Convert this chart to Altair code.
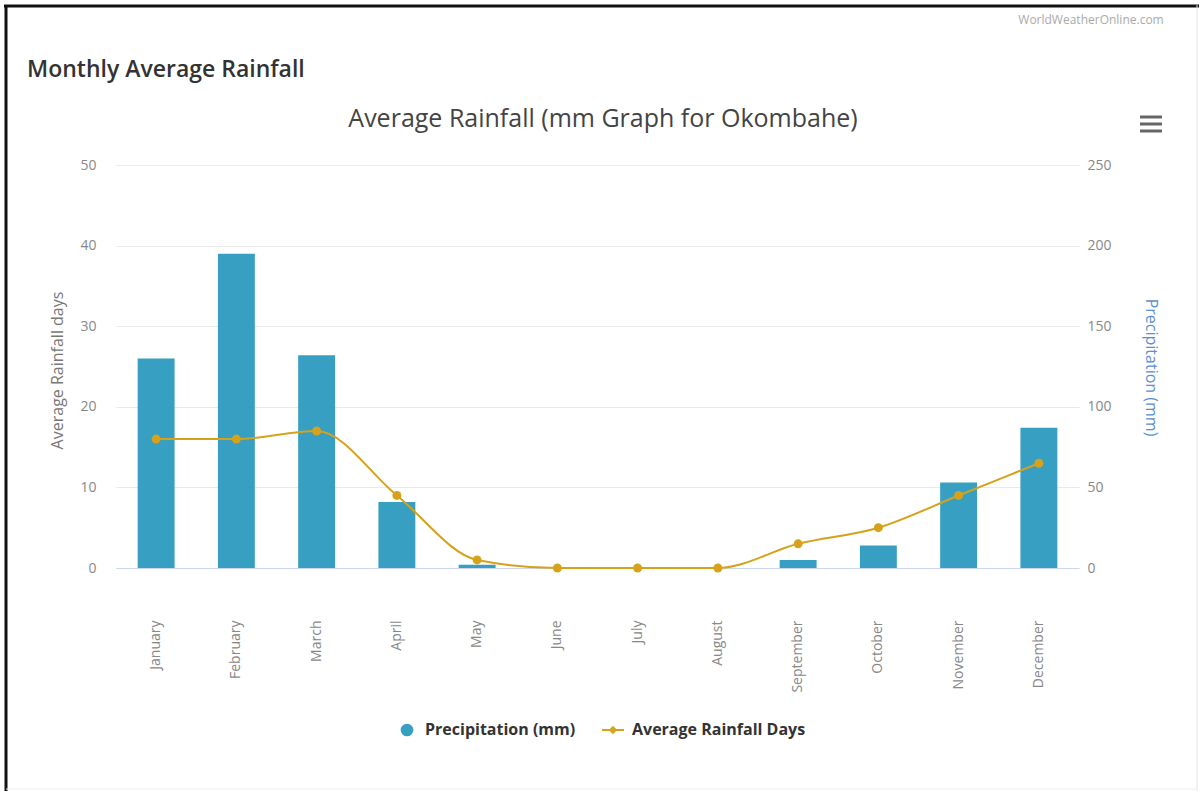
import altair as alt
import pandas as pd

months = ["January", "February", "March", "April", "May", "June", "July",
          "August", "September", "October", "November", "December"]
precip_mm = [130, 195, 132, 41, 2, 0, 0, 0, 5, 14, 53, 87]
rain_days = [16, 16, 17, 9, 1, 0, 0, 0, 3, 5, 9, 13]

df = pd.DataFrame({"month": months, "precip": precip_mm, "days": rain_days})

FONT = "Open Sans"
BLUE = "#369fc2"
GOLD = "#d6a21c"
W, H = 963, 403
OX, OY = 116, 165  # plot origin in page pixels

xenc = alt.X("month:N", sort=months, title=None,
             scale=alt.Scale(paddingInner=0.54, paddingOuter=0.27),
             axis=alt.Axis(labelAngle=-90, labelPadding=52, ticks=False,
                           domainColor="#ccd6eb", domainWidth=1,
                           labelColor="#888", labelFontSize=14, labelFont=FONT))

bars = alt.Chart(df).mark_bar(color=BLUE).encode(
    x=xenc,
    y=alt.Y("precip:Q", scale=alt.Scale(domain=[0, 250], nice=False),
            axis=alt.Axis(orient="right", values=[0, 50, 100, 150, 200, 250],
                          grid=False, domain=False, ticks=False, labelPadding=8,
                          labelColor="#888", labelFontSize=14, labelFont=FONT,
                          title="Precipitation (mm)", titleColor="#5b90cf",
                          titleFont=FONT, titleFontSize=16, titleFontWeight="normal",
                          titleAngle=90, titleX=71, titleY=202,
                          titleAlign="center", titleBaseline="middle")),
)

line = alt.Chart(df).mark_line(
    color=GOLD, strokeWidth=2, interpolate="monotone",
    point=alt.OverlayMarkDef(filled=True, size=80, color=GOLD),
).encode(
    x=xenc,
    y=alt.Y("days:Q", scale=alt.Scale(domain=[0, 50], nice=False),
            axis=alt.Axis(orient="left", values=[0, 10, 20, 30, 40, 50],
                          grid=True, gridColor="#e9e9e9", domain=False, ticks=False,
                          labelPadding=20, labelColor="#888", labelFontSize=14,
                          labelFont=FONT, title="Average Rainfall days",
                          titleColor="#777", titleFont=FONT, titleFontSize=16,
                          titleFontWeight="normal", titleAngle=-90,
                          titleX=-59, titleY=205, titleAlign="center",
                          titleBaseline="middle")),
)

def txt(s, x, y, size, color, weight="normal", align="left"):
    return alt.Chart(pd.DataFrame({"t": [s]})).mark_text(
        font=FONT, fontSize=size, color=color, fontWeight=weight,
        align=align, baseline="middle",
    ).encode(x=alt.value(x - OX), y=alt.value(y - OY), text="t:N")

def rule(x1, x2, y1, y2, color, width):
    return alt.Chart(pd.DataFrame({"a": [0]})).mark_rule(
        color=color, strokeWidth=width
    ).encode(x=alt.value(x1 - OX), x2=alt.value(x2 - OX),
             y=alt.value(y1 - OY), y2=alt.value(y2 - OY))

decor = [
    txt("Monthly Average Rainfall", 27, 70, 23, "#333", weight=600),
    txt("Average Rainfall (mm Graph for Okombahe)", 603, 119, 25, "#444", align="center"),
    txt("WorldWeatherOnline.com", 1091, 20, 12, "#aaa", align="center"),
    rule(1140, 1162, 117, 117, "#666", 3),
    rule(1140, 1162, 124, 124, "#666", 3),
    rule(1140, 1162, 131, 131, "#666", 3),
    # legend
    alt.Chart(pd.DataFrame({"a": [0]})).mark_point(
        shape="circle", filled=True, size=160, color=BLUE, opacity=1
    ).encode(x=alt.value(407 - OX), y=alt.value(730 - OY)),
    txt("Precipitation (mm)", 425, 730, 16, "#333", weight="bold"),
    rule(602, 624, 730, 730, GOLD, 2),
    alt.Chart(pd.DataFrame({"a": [0]})).mark_point(
        shape="diamond", filled=True, size=70, color=GOLD, opacity=1
    ).encode(x=alt.value(613 - OX), y=alt.value(730 - OY)),
    txt("Average Rainfall Days", 632, 730, 16, "#333", weight="bold"),
    # frame
    rule(4, 1199, 6, 6, "#111", 3),
    rule(6, 6, 5, 791, "#111", 3),
    rule(1197, 1197, 5, 791, "#e4e4e4", 1),
    rule(6, 1197, 789, 789, "#eeeeee", 1),
]

chart = alt.layer(bars, line, *decor).resolve_scale(y="independent").properties(
    width=W, height=H,
    autosize=alt.AutoSizeParams(type="none"),
    padding={"left": OX, "top": OY, "right": 1199 - OX - W, "bottom": 791 - OY - H},
    background="white",
).configure_view(stroke=None)

chart.save("out.html", embed_options={"renderer": "svg", "actions": False})
